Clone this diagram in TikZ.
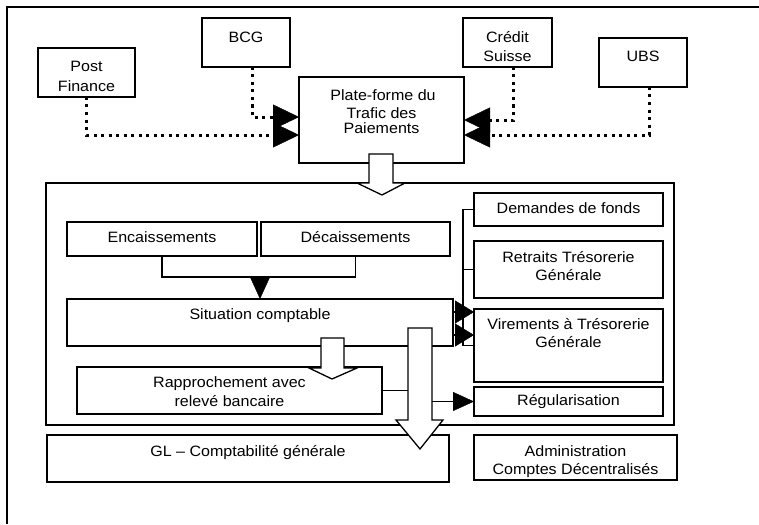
\documentclass[tikz,border=0pt]{standalone}
\usepackage{fontspec}
\setmainfont[FakeStretch=1.07]{Liberation Sans}
\usetikzlibrary{arrows.meta,calc}
\begin{document}
\begin{tikzpicture}[x=1pt,y=-1pt,
  box/.style={draw,line width=1.3pt,fill=white,inner sep=0pt,outer sep=0pt,anchor=north west},
  txt/.style={inner sep=0pt,anchor=base,font=\fontsize{15}{18}\selectfont},
  conn/.style={line width=1.3pt},
  dotline/.style={line width=3pt,dash pattern=on 3pt off 4.5pt,-{Triangle[length=26pt,width=25pt,line width=0.4pt]}},
  hollow/.style={draw,fill=white,line width=1.3pt,line join=miter},
]
\fill[white] (0,0) rectangle (759,524);
\useasboundingbox (0,0) rectangle (759,524);
% outer frame (top and left only)
\draw[line width=2pt] (7,524) -- (7,7) -- (759,7);

% top boxes
\node[box,minimum width=97pt,minimum height=49pt] (pf) at (38,48) {};
\node[box,minimum width=88pt,minimum height=49pt] (bcg) at (202,18) {};
\node[box,minimum width=165pt,minimum height=86pt] (plat) at (299,77) {};
\node[box,minimum width=89pt,minimum height=49pt] (cs) at (463,18) {};
\node[box,minimum width=88pt,minimum height=49pt] (ubs) at (599,38) {};

% inner frame
\node[box,minimum width=628pt,minimum height=242pt] (frame) at (46,183) {};
\node[box,minimum width=190pt,minimum height=34pt] (enc) at (67,222) {};
\node[box,minimum width=189pt,minimum height=34pt] (dec) at (261,222) {};
\node[box,minimum width=386pt,minimum height=47pt] (sit) at (67,299) {};
\node[box,minimum width=305pt,minimum height=47pt] (rap) at (77,367) {};
\node[box,minimum width=189pt,minimum height=33pt] (dem) at (474,193) {};
\node[box,minimum width=189pt,minimum height=57pt] (ret) at (474,241) {};
\node[box,minimum width=189pt,minimum height=73pt] (vir) at (474,309) {};
\node[box,minimum width=189pt,minimum height=29pt] (reg) at (474,387) {};

% bottom boxes
\node[box,minimum width=402pt,minimum height=47pt] (gl) at (47,435) {};
\node[box,minimum width=203pt,minimum height=45pt] (adm) at (474,435) {};

% texts
\node[txt] (tpf1) at (86.5,72) {Post};
\node[txt] (tpf2) at (86.5,92) {Finance};
\node[txt] (tbcg) at (246,43) {BCG};
\node[txt] (tpl1) at (383,101) {Plate-forme du};
\node[txt] (tpl2) at (381.5,118) {Trafic des};
\node[txt] (tpl3) at (381.5,133) {Paiements};
\node[txt] (tcs1) at (507.5,43) {Crédit};
\node[txt] (tcs2) at (507.5,62) {Suisse};
\node[txt] (tubs) at (643,62) {UBS};
\node[txt] (tenc) at (162,242) {Encaissements};
\node[txt] (tdec) at (355.5,242) {Décaissements};
\node[txt] (tsit) at (260,319) {Situation comptable};
\node[txt] (trap1) at (229.5,387) {Rapprochement avec};
\node[txt] (trap2) at (229.5,406) {relevé bancaire};
\node[txt] (tdem) at (568.5,213) {Demandes de fonds};
\node[txt] (tret1) at (568.5,262) {Retraits Trésorerie};
\node[txt] (tret2) at (568.5,280) {Générale};
\node[txt] (tvir1) at (568.5,329) {Virements à Trésorerie};
\node[txt] (tvir2) at (568.5,347) {Générale};
\node[txt] (treg) at (568.5,405) {Régularisation};
\node[txt] (tgl) at (248,456) {GL – Comptabilité générale};
\node[txt] (tadm1) at (575.5,456) {Administration};
\node[txt] (tadm2) at (575.5,474) {Comptes Décentralisés};

% dotted connectors from banks
\draw[dotline] (pf.south) |- (plat.west |- 0,135);
\draw[dotline] ([xshift=6pt]bcg.south) |- (plat.west |- 0,117);
\draw[dotline] ([xshift=6pt]cs.south) |- (plat.east |- 0,120);
\draw[dotline] ([xshift=6pt]ubs.south) |- (plat.east |- 0,135);

% Encaissements / Decaissements -> Situation
\draw[conn] (enc.south) -- (enc.south |- 0,277) -- (dec.south |- 0,277) -- (dec.south);
\draw[conn,-{Triangle[length=22pt,width=20pt,line width=0.4pt]}] (sit.north |- 0,277) -- (sit.north);

% right bracket
\draw[conn] (dem.west) -| ([xshift=-11pt]vir.west) -- (vir.west);
\draw[conn] (ret.west) -- ++(-11,0);

% Situation -> Virements
\coordinate (s1) at ([yshift=10.5pt]sit.east);
\coordinate (s2) at ([yshift=-12.5pt]sit.east);
\draw[conn,-{Triangle[length=19pt,width=23pt,line width=0.4pt]}] (s1) -- (s1 -| vir.west);
\draw[conn,-{Triangle[length=19pt,width=23pt,line width=0.4pt]}] (s2) -- (s2 -| vir.west);

% Rapprochement -> big arrow, big arrow -> Regularisation
\coordinate (bigL) at (408,390.5);
\coordinate (bigR) at (432,401.5);
\draw[conn] (rap.east |- bigL) -- (bigL);
\draw[conn,-{Triangle[length=21pt,width=19pt,line width=0.4pt]}] (bigR) -- (reg.west);

% hollow block arrows
\draw[hollow] (369,154) -- (393,154) -- (393,183) -- (405,183) -- (382,195) -- (357,183) -- (369,183) -- cycle;
\draw[hollow] (321,338) -- (344,338) -- (344,368) -- (357,368) -- (332,379) -- (309,368) -- (321,368) -- cycle;
\draw[hollow] (408,328) -- (432,328) -- (432,420) -- (443,420) -- (420,449) -- (396,420) -- (408,420) -- cycle;
\end{tikzpicture}
\end{document}
